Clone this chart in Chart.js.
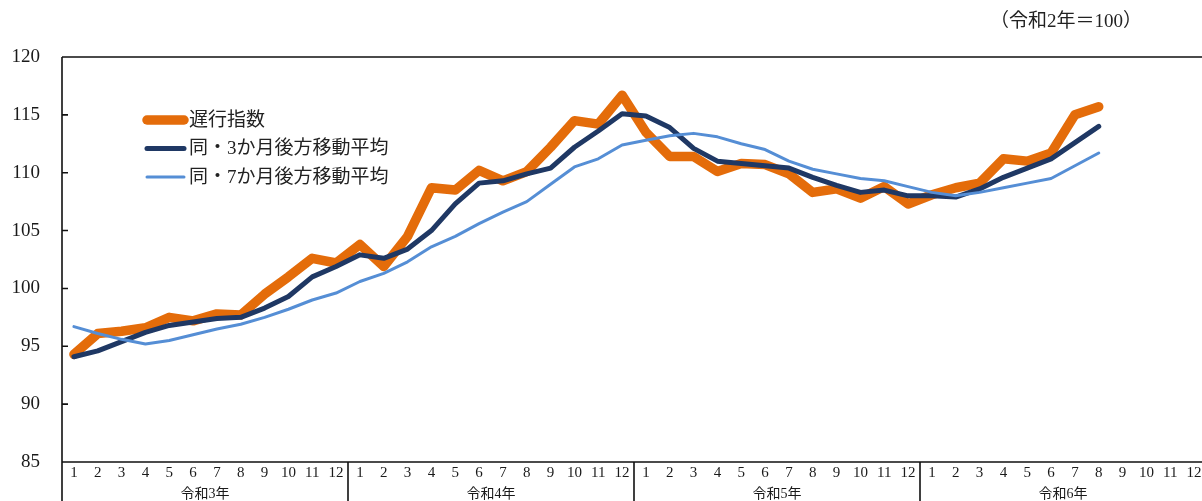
<!DOCTYPE html>
<html>
<head>
<meta charset="utf-8">
<script src="https://cdn.jsdelivr.net/npm/chart.js@4.4.1/dist/chart.umd.min.js"></script>
<style>
  html, body { margin: 0; padding: 0; background: #fff; overflow: hidden; }
  #wrap { position: absolute; left: 0; top: 0; width: 1206px; height: 501px; }
</style>
</head>
<body>
<div id="wrap"><canvas id="chiko"></canvas></div>
<script>
// 月ラベル（令和3年1月～令和6年12月）
const months = ['1','2','3','4','5','6','7','8','9','10','11','12'];
const years = ['令和3年', '令和4年', '令和5年', '令和6年'];
const yTicks = [85, 90, 95, 100, 105, 110, 115, 120];

// 遅行指数
const chiko = [94.3, 96.1, 96.3, 96.6, 97.5, 97.2, 97.8, 97.7, 99.5, 101.0, 102.6, 102.2,
  103.8, 101.9, 104.5, 108.7, 108.5, 110.2, 109.3, 110.1, 112.2, 114.5, 114.2, 116.7,
  113.5, 111.4, 111.4, 110.1, 110.8, 110.7, 109.9, 108.3, 108.6, 107.8, 108.8, 107.3,
  108.1, 108.7, 109.1, 111.2, 111.0, 111.7, 115.0, 115.7];
// 同・3か月後方移動平均
const ma3 = [94.1, 94.6, 95.4, 96.2, 96.8, 97.1, 97.4, 97.5, 98.3, 99.3, 101.0, 101.9,
  102.9, 102.6, 103.4, 105.0, 107.3, 109.1, 109.3, 109.9, 110.4, 112.2, 113.6, 115.1,
  114.9, 113.9, 112.1, 111.0, 110.8, 110.6, 110.4, 109.6, 108.9, 108.3, 108.5, 108.0,
  108.0, 107.9, 108.6, 109.6, 110.4, 111.2, 112.6, 114.0];
// 同・7か月後方移動平均
const ma7 = [96.7, 96.1, 95.6, 95.2, 95.5, 96.0, 96.5, 96.9, 97.5, 98.2, 99.0, 99.6,
  100.6, 101.3, 102.3, 103.6, 104.5, 105.6, 106.6, 107.5, 109.0, 110.5, 111.2, 112.4,
  112.8, 113.2, 113.4, 113.1, 112.5, 112.0, 111.0, 110.3, 109.9, 109.5, 109.3, 108.8,
  108.3, 108.0, 108.3, 108.7, 109.1, 109.5, 110.6, 111.7];

const labels = [];
years.forEach(y => months.forEach(m => labels.push(m)));

const FONT = '"Liberation Serif", "Noto Sans CJK JP", serif';
const TEXT = '#1a1a1a';

const frame = {
  id: 'frame',
  afterDraw(chart) {
    const ctx = chart.ctx;
    const x = chart.scales.x, y = chart.scales.y;
    const a = chart.chartArea;
    ctx.save();
    ctx.strokeStyle = '#111';
    ctx.lineWidth = 1.6;
    ctx.beginPath();
    ctx.moveTo(a.left, a.top); ctx.lineTo(a.right, a.top);
    ctx.moveTo(a.left, a.top); ctx.lineTo(a.left, chart.height);
    ctx.moveTo(a.left, a.bottom); ctx.lineTo(a.right, a.bottom);
    // 年の区切り
    for (let i = 1; i < years.length; i++) {
      const sx = (x.getPixelForValue(i * 12 - 1) + x.getPixelForValue(i * 12)) / 2;
      ctx.moveTo(sx, a.bottom); ctx.lineTo(sx, chart.height);
    }
    // 内向きの目盛り
    yTicks.forEach(v => {
      const ty = y.getPixelForValue(v);
      ctx.moveTo(a.left, ty); ctx.lineTo(a.left + 6, ty);
    });
    ctx.stroke();

    // 年ラベル
    ctx.fillStyle = TEXT;
    ctx.font = '14px ' + FONT;
    ctx.textAlign = 'center';
    ctx.textBaseline = 'middle';
    years.forEach((yr, i) => {
      const cx = (x.getPixelForValue(i * 12) + x.getPixelForValue(i * 12 + 11)) / 2;
      ctx.fillText(yr, cx, 494);
    });

    // 凡例
    ctx.font = '19px ' + FONT;
    ctx.textAlign = 'left';
    chart.data.datasets.forEach((ds, i) => {
      const ly = 120 + i * 28.5;
      ctx.strokeStyle = ds.borderColor;
      ctx.lineWidth = ds.borderWidth;
      ctx.lineCap = 'round';
      ctx.beginPath();
      ctx.moveTo(147, ly); ctx.lineTo(184, ly);
      ctx.stroke();
      ctx.fillStyle = '#222';
      ctx.fillText(ds.label, 189, ly + 1);
    });

    // 基準
    ctx.font = '19px ' + FONT;
    ctx.textAlign = 'left';
    ctx.fillText('（令和2年＝100）', 990, 22);
    ctx.restore();
  }
};

new Chart(document.getElementById('chiko'), {
  type: 'line',
  data: {
    labels: labels,
    datasets: [
      { label: '遅行指数', data: chiko, borderColor: '#e46c0a', borderWidth: 9.5, order: 3 },
      { label: '同・3か月後方移動平均', data: ma3, borderColor: '#1f3864', borderWidth: 5, order: 2 },
      { label: '同・7か月後方移動平均', data: ma7, borderColor: '#558ed5', borderWidth: 3, order: 1 }
    ]
  },
  options: {
    responsive: true,
    maintainAspectRatio: false,
    animation: false,
    layout: { padding: { top: 57, left: 0, right: 0, bottom: 0 } },
    elements: {
      point: { radius: 0 },
      line: { tension: 0, borderJoinStyle: 'round', borderCapStyle: 'round' }
    },
    plugins: { legend: { display: false }, tooltip: { enabled: false } },
    scales: {
      x: {
        offset: true,
        grid: { display: false, drawTicks: false },
        border: { display: false },
        ticks: {
          autoSkip: false, maxRotation: 0, padding: 2,
          color: TEXT, font: { family: FONT, size: 15 }
        },
        afterFit(s) { s.height = 39; }
      },
      y: {
        min: 85, max: 120,
        grid: { display: false, drawTicks: false },
        border: { display: false },
        afterBuildTicks(s) { s.ticks = yTicks.map(v => ({ value: v })); },
        ticks: {
          padding: 22,
          color: TEXT, font: { family: FONT, size: 19 }
        },
        afterFit(s) { s.width = 62; }
      }
    }
  },
  plugins: [frame]
});
</script>
</body>
</html>
